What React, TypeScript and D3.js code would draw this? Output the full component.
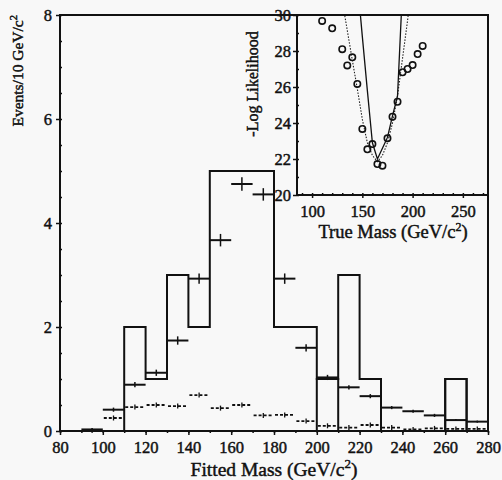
import React, { useEffect, useRef } from 'react';
import * as d3 from 'd3';

// main histogram: 10 GeV bins, lower edges
const binLow = [80, 90, 100, 110, 120, 130, 140, 150, 160, 170, 180, 190, 200, 210, 220, 230, 240, 250, 260, 270];
const observed = [0, 0, 0, 2, 1, 3, 2, 5, 5, 5, 2, 2, 1, 3, 1, 0, 0, 0, 1, 0];
const predicted = [null, 0.03, 0.41, 0.89, 1.12, 1.74, 2.93, 3.67, 4.75, 4.55, 2.93, 1.6, 1.03, 0.84, 0.67, 0.45, 0.38, 0.3, 0.21, 0.18];
const predErr = [0, 0.02, 0.04, 0.05, 0.06, 0.08, 0.1, 0.12, 0.13, 0.12, 0.1, 0.07, 0.05, 0.04, 0.04, 0.03, 0.03, 0.03, 0.02, 0.02];
const background = [null, 0.01, 0.25, 0.46, 0.5, 0.48, 0.69, 0.44, 0.5, 0.3, 0.31, 0.19, 0.1, 0.065, 0.115, 0.065, 0.03, 0.05, 0.04, 0.04];
const boxedBins = [200, 260];
const yTicks = [0, 2, 4, 6, 8];
const xTicks = [80, 100, 120, 140, 160, 180, 200, 220, 240, 260, 280];

// inset: likelihood scan
const scanMass = [110, 120, 130, 135, 140, 145, 150, 155, 160, 165, 170, 175, 180, 185, 190, 195, 200, 205, 210];
const scanNll = [29.67, 29.26, 28.1, 27.2, 27.65, 26.17, 23.67, 22.54, 22.83, 21.72, 21.63, 23.15, 24.35, 25.18, 26.82, 27.0, 27.22, 27.83, 28.28];
const fitMass = [145, 150, 155, 160, 165, 170, 175, 180, 185, 190];
const fitNll = [31.9, 28.8, 25.8, 22.9, 22.0, 22.6, 23.2, 24.4, 25.5, 31.5];
const altMass = [125, 130, 135, 140, 145, 150, 155, 160, 165, 170, 175, 180, 185, 190, 195, 200];
const altNll = [32.6, 30.8, 29.15, 27.5, 25.9, 24.2, 22.9, 22.2, 21.85, 22.2, 22.9, 24.0, 25.5, 27.6, 29.7, 32.0];
const insetYTicks = [20, 22, 24, 26, 28, 30];
const insetXTicks = [100, 150, 200, 250];

const BG = '#f8f8f8';
const INK = '#111';
const FONT = '"Liberation Serif", "Times New Roman", serif';

export default function App() {
  const ref = useRef<SVGSVGElement>(null);

  useEffect(() => {
    const svg = d3.select(ref.current);
    svg.selectAll('*').remove();

    svg.append('rect').attr('width', 502).attr('height', 480).attr('fill', BG);

    const x = d3.scaleLinear().domain([80, 280]).range([60, 488]);
    const y = d3.scaleLinear().domain([0, 8]).range([431, 15]);

    // scanned-look text: regular serif with a hairline stroke
    const ink = (sel: any, size: number) =>
      sel.attr('font-family', FONT).attr('font-size', size).attr('fill', INK)
        .attr('stroke', INK).attr('stroke-width', 0.45);

    const main = svg.append('g');

    // histogram outline
    const pts: [number, number][] = binLow.map((b, i) => [b, observed[i]]);
    pts.push([280, observed[observed.length - 1]]);
    const step = d3.line<[number, number]>().x(d => x(d[0])).y(d => y(d[1])).curve(d3.curveStepAfter);
    main.append('path').attr('d', step(pts)).attr('fill', 'none').attr('stroke', INK).attr('stroke-width', 2);
    binLow.forEach((b, i) => {
      if (!boxedBins.includes(b)) return;
      main.append('rect')
        .attr('x', x(b)).attr('y', y(observed[i]))
        .attr('width', x(b + 10) - x(b)).attr('height', y(0) - y(observed[i]))
        .attr('fill', 'none').attr('stroke', INK).attr('stroke-width', 2);
    });

    // background (dashed) crosses
    binLow.forEach((b, i) => {
      const v = background[i];
      if (v == null) return;
      main.append('line')
        .attr('x1', x(b) + 1).attr('x2', x(b + 10) - 1).attr('y1', y(v)).attr('y2', y(v))
        .attr('stroke', INK).attr('stroke-width', 1.8).attr('stroke-dasharray', '3,2');
      main.append('line')
        .attr('x1', x(b + 5)).attr('x2', x(b + 5)).attr('y1', y(v) - 2.5).attr('y2', y(v) + 2.5)
        .attr('stroke', INK).attr('stroke-width', 1.3);
    });

    // prediction crosses
    binLow.forEach((b, i) => {
      const v = predicted[i];
      if (v == null) return;
      main.append('line')
        .attr('x1', x(b)).attr('x2', x(b + 10)).attr('y1', y(v)).attr('y2', y(v))
        .attr('stroke', INK).attr('stroke-width', 2);
      main.append('line')
        .attr('x1', x(b + 5)).attr('x2', x(b + 5)).attr('y1', y(v + predErr[i])).attr('y2', y(v - predErr[i]))
        .attr('stroke', INK).attr('stroke-width', 1.5);
    });

    // axes
    const xAxis = main.append('g').attr('transform', 'translate(0,431)')
      .call(d3.axisBottom(x).tickValues(xTicks).tickSize(4).tickSizeOuter(0).tickPadding(6));
    const xMinor = main.append('g').attr('transform', 'translate(0,431)')
      .call(d3.axisBottom(x).ticks(20).tickSize(2).tickFormat(() => ''));
    const yAxis = main.append('g').attr('transform', 'translate(60,0)')
      .call(d3.axisLeft(y).tickValues(yTicks).tickSize(4).tickSizeOuter(0).tickPadding(4));
    const yMinor = main.append('g').attr('transform', 'translate(60,0)')
      .call(d3.axisLeft(y).ticks(16).tickSize(-2).tickFormat(() => ''));
    [xAxis, xMinor, yAxis, yMinor].forEach(g => {
      g.select('.domain').remove();
      g.selectAll('line').attr('stroke', INK).attr('stroke-width', 1.5);
      ink(g.selectAll('text'), 16.5);
    });

    // axis titles
    const xt = ink(main.append('text').attr('x', 274).attr('y', 476).attr('text-anchor', 'middle'), 19.5);
    xt.append('tspan').text('Fitted Mass (GeV/c');
    xt.append('tspan').attr('dy', -8).attr('font-size', 13).text('2');
    xt.append('tspan').attr('dy', 8).text(')');

    const yt = ink(main.append('text').attr('transform', 'translate(23,15) rotate(-90)').attr('text-anchor', 'end'), 15.5);
    yt.append('tspan').text('Events/10 GeV/c');
    yt.append('tspan').attr('dy', -6).attr('font-size', 10.5).text('2');

    // ---------- inset ----------
    const xi = d3.scaleLinear().domain([85, 275]).range([297, 488]);
    const yi = d3.scaleLinear().domain([20, 30]).range([195, 15]);
    const inset = svg.append('g');
    inset.append('rect').attr('x', 297).attr('y', 15).attr('width', 191).attr('height', 180).attr('fill', BG);

    svg.append('defs').append('clipPath').attr('id', 'insetClip')
      .append('rect').attr('x', 297).attr('y', 15).attr('width', 191).attr('height', 180);
    const plot = inset.append('g').attr('clip-path', 'url(#insetClip)');

    const lineOf = (ms: number[], vs: number[]) =>
      d3.line<number>().x(d => xi(ms[d])).y(d => yi(vs[d]))(ms.map((_, i) => i));

    plot.append('path').attr('d', lineOf(altMass, altNll)).attr('fill', 'none')
      .attr('stroke', '#222').attr('stroke-width', 1.1).attr('stroke-dasharray', '1.5,1.5');
    plot.append('path').attr('d', lineOf(fitMass, fitNll)).attr('fill', 'none')
      .attr('stroke', INK).attr('stroke-width', 1.3);
    plot.selectAll('circle.scan').data(scanMass).enter().append('circle')
      .attr('cx', d => xi(d)).attr('cy', (d, i) => yi(scanNll[i])).attr('r', 3.2)
      .attr('fill', 'none').attr('stroke', INK).attr('stroke-width', 1.6);

    const ixAxis = inset.append('g').attr('transform', 'translate(0,195)')
      .call(d3.axisBottom(xi).tickValues(insetXTicks).tickSize(3).tickSizeOuter(0).tickPadding(7));
    const ixMinor = inset.append('g').attr('transform', 'translate(0,195)')
      .call(d3.axisBottom(xi).ticks(19).tickSize(-2).tickFormat(() => ''));
    const iyAxis = inset.append('g').attr('transform', 'translate(297,0)')
      .call(d3.axisLeft(yi).tickValues(insetYTicks).tickSize(4).tickSizeOuter(0).tickPadding(2));
    const iyMinor = inset.append('g').attr('transform', 'translate(297,0)')
      .call(d3.axisLeft(yi).ticks(10).tickSize(-2).tickFormat(() => ''));
    [ixAxis, ixMinor, iyAxis, iyMinor].forEach(g => {
      g.select('.domain').remove();
      g.selectAll('line').attr('stroke', INK).attr('stroke-width', 1.5);
      ink(g.selectAll('text'), 16.5);
    });

    const ixt = ink(inset.append('text').attr('x', 393).attr('y', 238).attr('text-anchor', 'middle'), 18.5);
    ixt.append('tspan').text('True Mass (GeV/c');
    ixt.append('tspan').attr('dy', -7).attr('font-size', 12).text('2');
    ixt.append('tspan').attr('dy', 7).text(')');

    ink(inset.append('text').attr('transform', 'translate(258,84) rotate(-90)').attr('text-anchor', 'middle'), 16)
      .text('-Log Likelihood');

    // frames
    inset.append('path').attr('d', 'M297,15V195H488').attr('fill', 'none').attr('stroke', INK).attr('stroke-width', 2);
    svg.append('rect').attr('x', 60).attr('y', 15).attr('width', 428).attr('height', 416)
      .attr('fill', 'none').attr('stroke', INK).attr('stroke-width', 2);
  }, []);

  return <svg ref={ref} width={502} height={480} style={{ position: 'absolute', left: 0, top: 0 }} />;
}
